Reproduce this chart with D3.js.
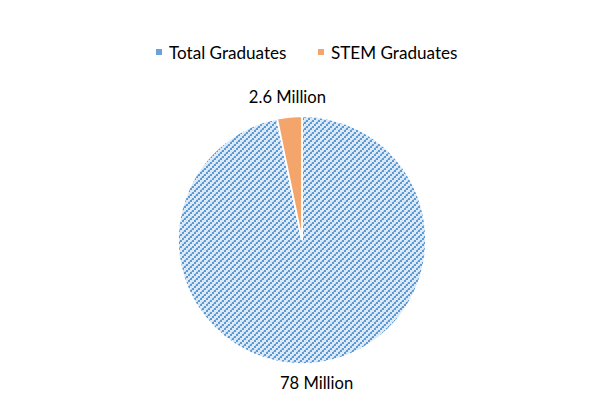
<!DOCTYPE html>
<html><head><meta charset="utf-8">
<script src="https://cdn.jsdelivr.net/npm/d3@7"></script>
<style>body{margin:0;background:#fff;} svg{display:block;}</style>
</head><body>
<svg id="c" width="603" height="403"></svg>
<script>
const categories = ["Total Graduates", "STEM Graduates"];
const values = [78, 2.6];
const labels = ["78 Million", "2.6 Million"];

const svg = d3.select("#c");
const cx = 302, cy = 240, R = 124;
const font = "Lato, 'Open Sans', sans-serif";

const defs = svg.append("defs");
const pat = defs.append("pattern").attr("id","hatch").attr("patternUnits","userSpaceOnUse")
  .attr("width",6).attr("height",6);
pat.append("rect").attr("width",6).attr("height",6).attr("fill","#dde9f7");
[[0,4],[2,2],[4,0]].forEach(([x,y])=>{
  pat.append("rect").attr("x",x).attr("y",y).attr("width",2).attr("height",2).attr("fill","#5b9bd5");
});
[[1,4],[3,2],[5,0]].forEach(([x,y])=>{
  pat.append("rect").attr("x",x).attr("y",y-1).attr("width",1).attr("height",1).attr("fill","#9cc2e8");
});

const fills = ["url(#hatch)", "#f4a56c"];
const color = d3.scaleOrdinal().domain(categories).range(fills);

const pie = d3.pie().sort(null).value(d => d.v).startAngle(0).endAngle(2*Math.PI);
const data = categories.map((c,i)=>({c, v: values[i], l: labels[i]}));
const arcs = pie(data);
const arc = d3.arc().innerRadius(0).outerRadius(R);
const labelArc = d3.arc().innerRadius(R+20).outerRadius(R+20);

const g = svg.append("g").attr("transform",`translate(${cx},${cy})`);
g.selectAll("path.slice").data(arcs).join("path").attr("class","slice")
  .attr("d", arc).attr("fill", d => color(d.data.c))
  .attr("stroke","#fff").attr("stroke-width",1.8).attr("stroke-linejoin","miter");

g.selectAll("text.lbl").data(arcs).join("text").attr("class","lbl")
  .attr("transform", d => `translate(${labelArc.centroid(d)})`)
  .attr("text-anchor","middle").attr("dominant-baseline","central")
  .attr("font-family", font).attr("font-size", 16.6).attr("fill","#000")
  .text(d => d.data.l);

// legend
const legendX = [156, 318];
const legendColors = ["#6aa3dc", "#f4a56c"];
const lg = svg.append("g");
categories.forEach((c,i)=>{
  lg.append("rect").attr("x",legendX[i]).attr("y",49).attr("width",6).attr("height",6)
    .attr("fill", legendColors[i]);
  lg.append("text").attr("x",legendX[i]+13).attr("y",52).attr("dominant-baseline","central")
    .attr("font-family", font).attr("font-size",17.1).attr("fill","#000").text(c);
});
</script>
</body></html>
